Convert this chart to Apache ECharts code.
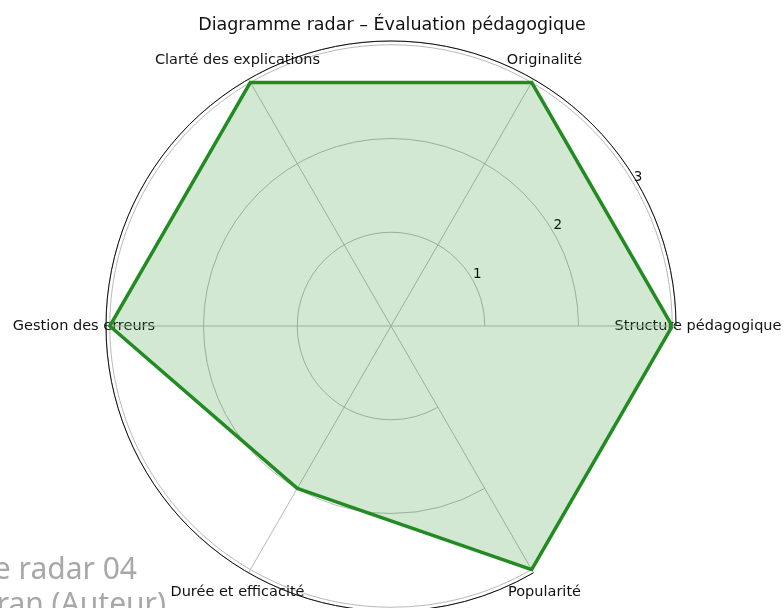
<!DOCTYPE html>
<html>
<head>
<meta charset="utf-8">
<script src="https://cdn.jsdelivr.net/npm/echarts@6/dist/echarts.min.js"></script>
<style>
  html, body { margin: 0; padding: 0; background: #fff; }
  #chart { width: 784px; height: 608px; }
</style>
</head>
<body>
<div id="chart"></div>
<script>
// Criteria around the radar, counter-clockwise from the right
const criteria = [
  'Structure pédagogique',
  'Originalité',
  'Clarté des explications',
  'Gestion des erreurs',
  'Durée et efficacité',
  'Popularité'
];
// Score of each criterion (scale 0–3)
const scores = [3, 3, 3, 3, 2, 3];
// Radial scale
const radialTicks = [1, 2, 3];
const radialMax = 3.04;

const chart = echarts.init(document.getElementById('chart'), null, { renderer: 'canvas' });

const font = 'DejaVu Sans';
const gridGrey = '#b9b9b9';
const center = [391, 326];
const outerR = 285;

chart.setOption({
  animation: false,
  backgroundColor: '#ffffff',
  title: {
    text: 'Diagramme radar – Évaluation pédagogique',
    left: 'center',
    top: 11,
    textStyle: { fontFamily: font, fontSize: 17.5, fontWeight: 'normal', color: '#111' }
  },
  // polar frames: [0] circles, spokes and outer rim; [1] radial tick labels
  polar: [
    { center: center, radius: outerR },
    { center: center, radius: [7, outerR + 7] }
  ],
  // radar frame carries the criterion names and the score polygon
  radar: {
    center: center,
    radius: outerR,
    startAngle: 0,
    shape: 'circle',
    indicator: criteria.map(name => ({ name: name, min: 0, max: radialMax })),
    axisName: {
      color: '#111',
      fontFamily: font,
      fontSize: 14.5,
      align: 'center',
      verticalAlign: 'middle'
    },
    nameGap: 22,
    axisLine: { show: false },
    axisTick: { show: false },
    axisLabel: { show: false },
    splitLine: { show: false },
    splitArea: { show: false }
  },
  angleAxis: [
    {
      polarIndex: 0,
      type: 'category',
      data: criteria,
      boundaryGap: false,
      startAngle: 0,
      clockwise: false,
      axisLine: { show: true, lineStyle: { color: '#111', width: 1 } },
      axisTick: { show: false },
      axisLabel: { show: false },
      splitLine: { show: true, lineStyle: { color: gridGrey, width: 1 } },
      z: 1
    },
    {
      polarIndex: 1,
      type: 'value',
      startAngle: 31,
      show: false
    }
  ],
  radiusAxis: [
    {
      polarIndex: 0,
      type: 'value',
      min: 0,
      max: radialMax,
      interval: 1,
      axisLine: { show: false },
      axisTick: { show: false },
      axisLabel: { show: false },
      splitLine: {
        show: true,
        lineStyle: { color: gridGrey, width: 1 }
      }
    },
    {
      polarIndex: 1,
      type: 'value',
      min: 0,
      max: radialMax,
      interval: 1,
      axisLine: { show: false },
      axisTick: { show: false },
      splitLine: { show: false },
      axisLabel: {
        margin: 0,
        align: 'center',
        verticalAlign: 'middle',
        fontFamily: font,
        fontSize: 13.5,
        color: '#111',
        formatter: v => (radialTicks.indexOf(v) >= 0 ? String(v) : '')
      },
      z: 5
    }
  ],
  graphic: [
    {
      type: 'text',
      x: 137,
      y: 585,
      style: {
        text: 'Diagramme radar 04',
        textAlign: 'right',
        textVerticalAlign: 'bottom',
        font: '30px "Noto Sans"',
        fill: '#a8a8a8'
      },
      z: 10
    },
    {
      type: 'text',
      x: 166,
      y: 620,
      style: {
        text: "Capture d'écran (Auteur)",
        textAlign: 'right',
        textVerticalAlign: 'bottom',
        font: '30px "Noto Sans"',
        fill: '#a8a8a8'
      },
      z: 10
    }
  ],
  series: [
    {
      type: 'radar',
      radarIndex: 0,
      symbol: 'none',
      lineStyle: { color: '#228b22', width: 3.5 },
      areaStyle: { color: '#228b22', opacity: 0.2 },
      data: [{ value: scores, name: 'Évaluation' }],
      z: 3
    }
  ]
});
</script>
</body>
</html>
